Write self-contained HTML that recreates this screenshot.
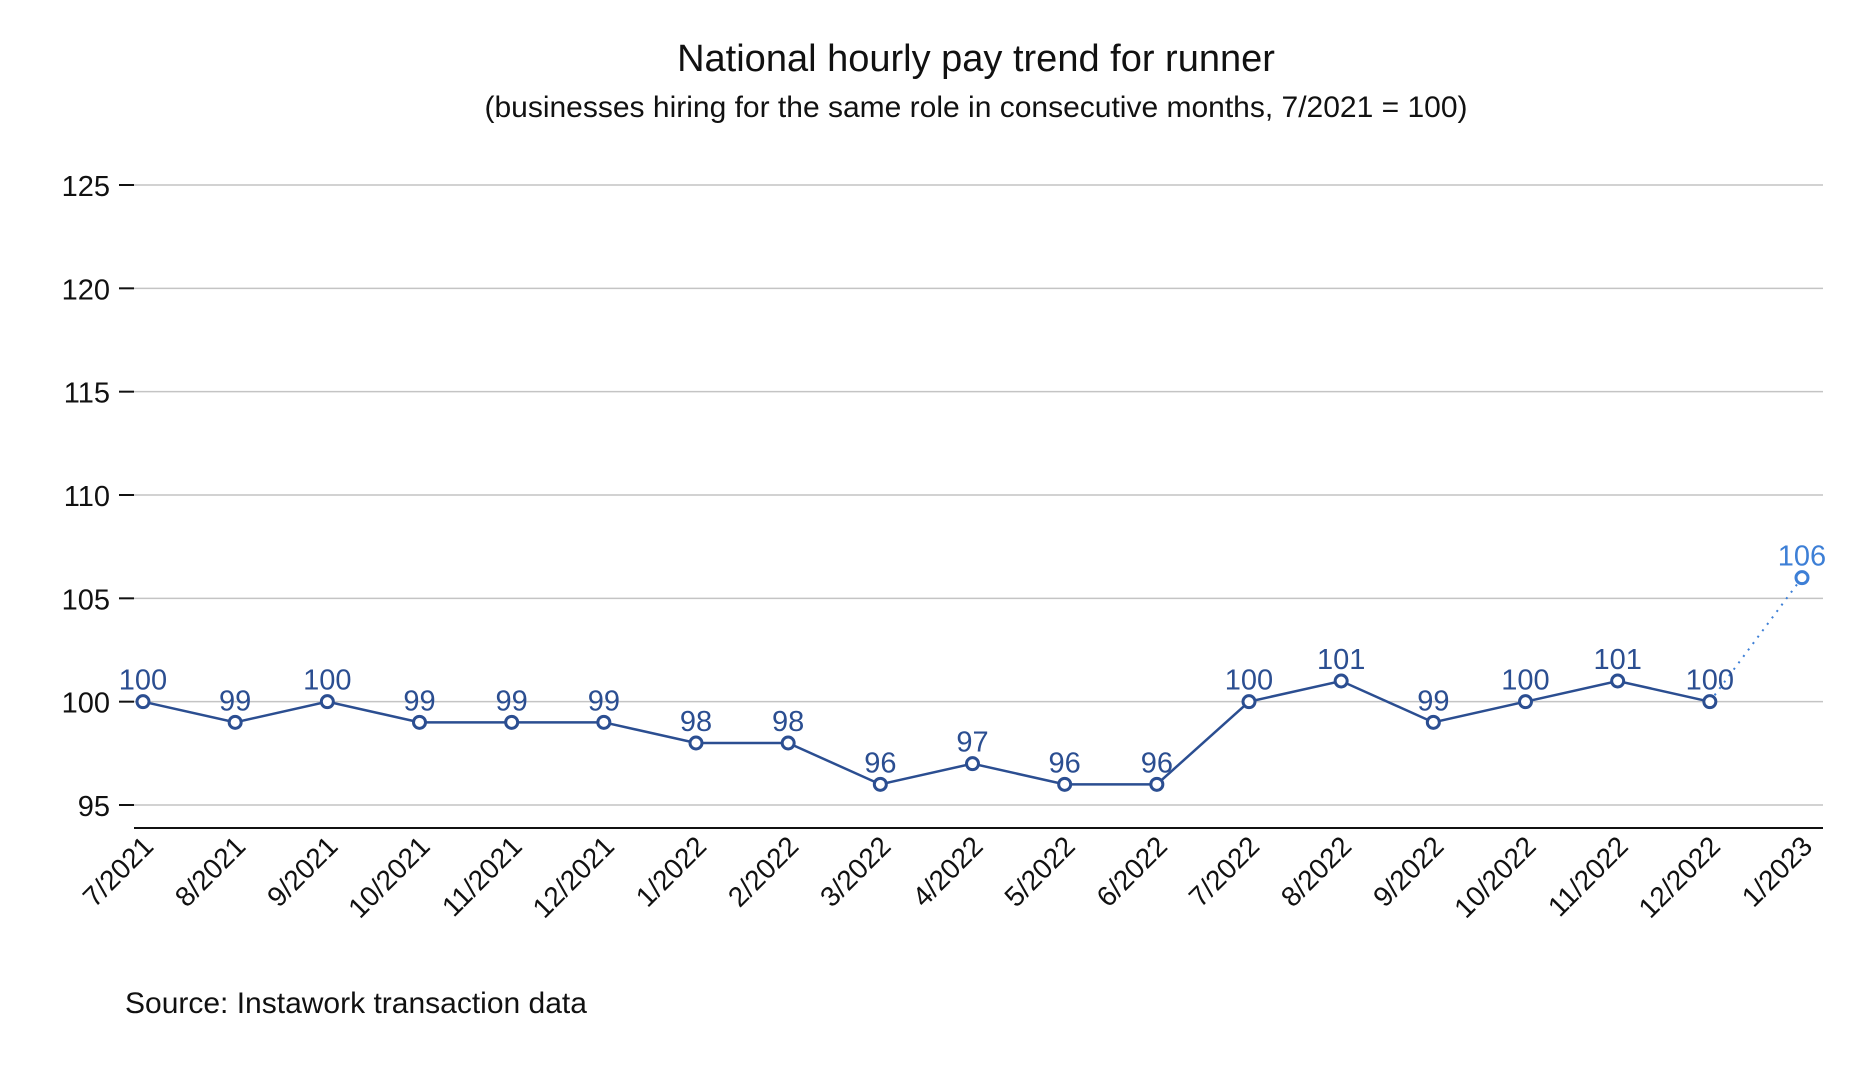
<!DOCTYPE html>
<html><head><meta charset="utf-8"><style>
body{margin:0;background:#fff;}
svg text{font-family:"Liberation Sans",sans-serif;}
</style></head><body>
<svg id="c" width="1862" height="1064" xmlns="http://www.w3.org/2000/svg">
<text x="976" y="71" text-anchor="middle" font-size="38" fill="#111">National hourly pay trend for runner</text>
<text x="976" y="117" text-anchor="middle" font-size="30" fill="#111">(businesses hiring for the same role in consecutive months, 7/2021 = 100)</text>
<text x="125" y="1013" font-size="30" fill="#111">Source: Instawork transaction data</text>
<g id="g"></g>
</svg>
<script>
const categories=["7/2021","8/2021","9/2021","10/2021","11/2021","12/2021","1/2022","2/2022","3/2022","4/2022","5/2022","6/2022","7/2022","8/2022","9/2022","10/2022","11/2022","12/2022","1/2023"];
const values=[100,99,100,99,99,99,98,98,96,97,96,96,100,101,99,100,101,100];
const forecast=[100,106];
const yTicks=[95,100,105,110,115,120,125];
const NS="http://www.w3.org/2000/svg";
const g=document.getElementById('g');
const x0=143,x1=1802,left=134,right=1823;
function xs(i){return x0+(x1-x0)*i/(categories.length-1);}
function ys(v){return 805-(v-95)*(805-185)/30;}
function mk(t,a,p){const e=document.createElementNS(NS,t);for(const k in a)e.setAttribute(k,a[k]);(p||g).appendChild(e);return e;}
yTicks.forEach(v=>{
  const l=mk('line',{x1:left,x2:right,y1:ys(v),y2:ys(v),stroke:'#c4c4c4','stroke-width':1.5});
  
  
  const tk=mk('line',{x1:119,x2:134,y1:ys(v),y2:ys(v),stroke:'#111','stroke-width':2});
  
  
  const t=mk('text',{x:110,y:ys(v)+11,'text-anchor':'end','font-size':29,fill:'#111'});
  t.textContent=v;
  
  
});
const ax=mk('line',{x1:left,x2:right,y1:828,y2:828,stroke:'#111','stroke-width':2});


categories.forEach((c,i)=>{
  const t=mk('text',{x:0,y:0,'text-anchor':'end','font-size':28,fill:'#111',transform:`translate(${xs(i)+12},${848}) rotate(-45)`});
  t.textContent=c;
  
  
});
const n=values.length;
const fl=mk('line',{x1:xs(n-1),y1:ys(forecast[0]),x2:xs(n),y2:ys(forecast[1]),stroke:'#3d7fd6','stroke-width':2,'stroke-dasharray':'2 6'});


const pl=mk('polyline',{points:values.map((v,i)=>xs(i)+','+ys(v)).join(' '),fill:'none',stroke:'#2b4e91','stroke-width':2.5});


function pt(i,v,col){
  const c=mk('circle',{cx:xs(i),cy:ys(v),r:6,fill:'#fff',stroke:col,'stroke-width':3});
  
  
  const t=mk('text',{x:xs(i),y:ys(v)-12,'text-anchor':'middle','font-size':29,fill:col});
  t.textContent=v;
  
  
}
values.forEach((v,i)=>pt(i,v,'#2b4e91'));
pt(n,forecast[1],'#3d7fd6');
</script>
</body></html>
